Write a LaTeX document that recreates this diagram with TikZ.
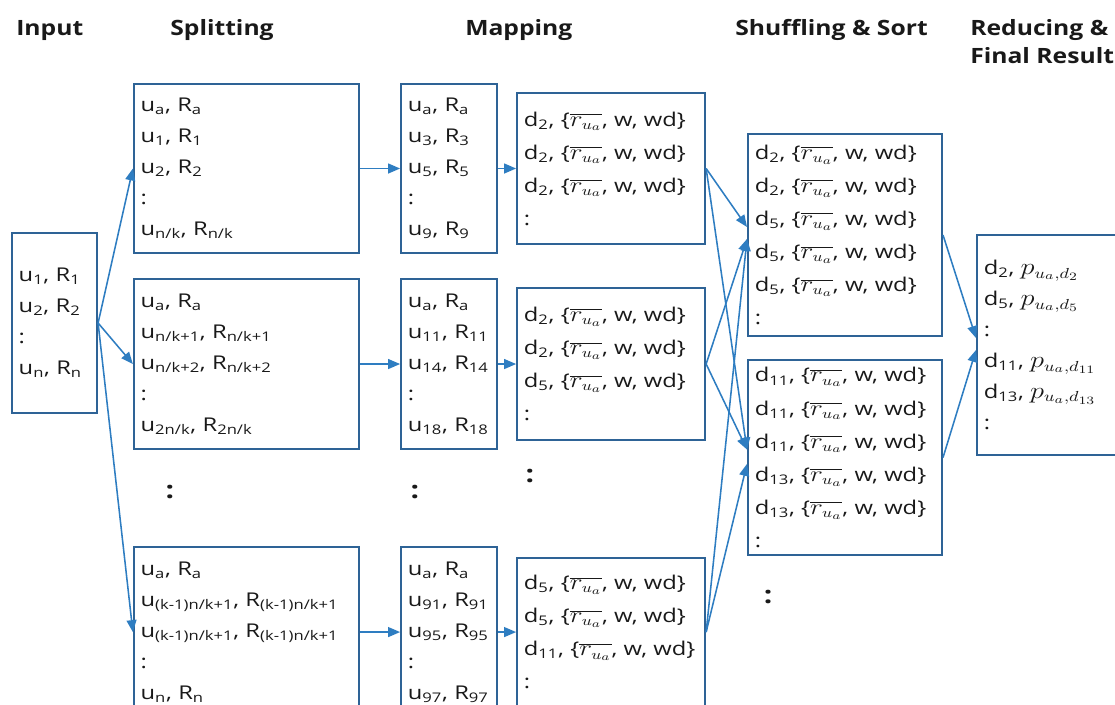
\documentclass[tikz,border=0pt]{standalone}
\usepackage{fontspec}
\setmainfont{Open Sans}[FakeStretch=1.25]
\newfontfamily\headfont{Open Sans}[FakeStretch=1.17]
\usetikzlibrary{arrows.meta, positioning}
\definecolor{boxblue}{RGB}{46,99,150}
\definecolor{arrowblue}{RGB}{46,125,193}
\definecolor{ink}{RGB}{25,25,25}
\newcommand{\sbt}[1]{\textsubscript{#1}}
\newcommand{\rua}{\scalebox{1.35}[1.1]{$\overline{r_{u_a}}$}}
\newcommand{\pud}[1]{\scalebox{1.4}[1.15]{$p_{u_a,d_{#1}}$}}

\begin{document}
\begin{tikzpicture}[x=0.025cm, y=-0.025cm,
    every node/.style={font=\fontsize{13.5}{22}\selectfont, text=ink},
    heading/.style={font=\headfont\fontsize{15}{20}\selectfont\bfseries, anchor=base west, inner sep=0},
    box/.style={rectangle, draw=boxblue, line width=1.4pt, align=left, inner xsep=0.17cm, inner ysep=0},
    pairbox/.style={box, font=\fontsize{13.5}{23.5}\selectfont},
    vdots/.style={font=\fontsize{17}{17}\selectfont\bfseries, inner sep=0},
    arrow/.style={-{Triangle[length=8.5pt, width=7pt]}, draw=arrowblue, line width=1.1pt}]

\useasboundingbox (0,0) rectangle (1115,704);
\clip (0,0) rectangle (1115,704);

% Headings
\node[heading] (hin) at (16,35) {Input};
\node[heading] (hsplit) at (170,35) {Splitting};
\node[heading] (hmap) at (465,35) {Mapping};
\node[heading] (hshuf) at (735,35) {Shuffling \& Sort};
\node[heading, anchor=north west, align=left] (hred) at (970,19) {Reducing \&\\Final Result};

% Input section
\node[box, text width=1.79cm, minimum height=4.5cm] (input) at (54.5,323)
  {u\sbt{1}, R\sbt{1}\\u\sbt{2}, R\sbt{2}\\:\\u\sbt{n}, R\sbt{n}};

% Splitting
\node[box, text width=5.29cm, minimum height=4.225cm] (split1) at (246.5,168.5)
  {u\sbt{a}, R\sbt{a}\\u\sbt{1}, R\sbt{1}\\u\sbt{2}, R\sbt{2}\\:\\u\sbt{n/k}, R\sbt{n/k}};
\node[box, text width=5.29cm, minimum height=4.25cm, below=0.6cm of split1] (split2)
  {u\sbt{a}, R\sbt{a}\\u\sbt{n/k+1}, R\sbt{n/k+1}\\u\sbt{n/k+2}, R\sbt{n/k+2}\\:\\u\sbt{2n/k}, R\sbt{2n/k}};
\node[box, text width=5.29cm, minimum height=4.25cm, below=2.4cm of split2] (split3)
  {u\sbt{a}, R\sbt{a}\\u\sbt{(k-1)n/k+1}, R\sbt{(k-1)n/k+1}\\u\sbt{(k-1)n/k+1}, R\sbt{(k-1)n/k+1}\\:\\u\sbt{n}, R\sbt{n}};
\node[vdots] (dsplit) at (170,492) {:};

% Mapping
\node[box, text width=2.06cm, minimum height=4.2cm, right=1cm of split1] (map1)
  {u\sbt{a}, R\sbt{a}\\u\sbt{3}, R\sbt{3}\\u\sbt{5}, R\sbt{5}\\:\\u\sbt{9}, R\sbt{9}};
\node[box, text width=2.06cm, minimum height=4.25cm, right=1cm of split2] (map2)
  {u\sbt{a}, R\sbt{a}\\u\sbt{11}, R\sbt{11}\\u\sbt{14}, R\sbt{14}\\:\\u\sbt{18}, R\sbt{18}};
\node[box, text width=2.06cm, minimum height=4.25cm, right=1cm of split3] (map3)
  {u\sbt{a}, R\sbt{a}\\u\sbt{91}, R\sbt{91}\\u\sbt{95}, R\sbt{95}\\:\\u\sbt{97}, R\sbt{97}};
\node[vdots] (dmap) at (415,492) {:};

\node[pairbox, text width=4.36cm, minimum height=3.775cm, right=0.45cm of map1] (out1)
  {d\sbt{2}, \{\rua, w, wd\}\\d\sbt{2}, \{\rua, w, wd\}\\d\sbt{2}, \{\rua, w, wd\}\\:};
\node[pairbox, text width=4.36cm, minimum height=3.8cm, right=0.45cm of map2] (out2)
  {d\sbt{2}, \{\rua, w, wd\}\\d\sbt{2}, \{\rua, w, wd\}\\d\sbt{5}, \{\rua, w, wd\}\\:};
\node[pairbox, text width=4.36cm, minimum height=3.7cm, right=0.45cm of map3] (out3)
  {d\sbt{5}, \{\rua, w, wd\}\\d\sbt{5}, \{\rua, w, wd\}\\d\sbt{11}, \{\rua, w, wd\}\\:};
\node[vdots] (dout) at (530,476) {:};

% Shuffling & Sort
\node[pairbox, text width=4.51cm, minimum height=5.05cm] (shuf1) at (845,235)
  {d\sbt{2}, \{\rua, w, wd\}\\d\sbt{2}, \{\rua, w, wd\}\\d\sbt{5}, \{\rua, w, wd\}\\d\sbt{5}, \{\rua, w, wd\}\\d\sbt{5}, \{\rua, w, wd\}\\:};
\node[pairbox, text width=4.51cm, minimum height=4.875cm, below=0.55cm of shuf1] (shuf2)
  {d\sbt{11}, \{\rua, w, wd\}\\d\sbt{11}, \{\rua, w, wd\}\\d\sbt{11}, \{\rua, w, wd\}\\d\sbt{13}, \{\rua, w, wd\}\\d\sbt{13}, \{\rua, w, wd\}\\:};
\node[vdots] (dshuf) at (768,597) {:};

% Reducing & final result
\node[box, text width=3.41cm, minimum height=5.5cm] (final) at (1052,345)
  {d\sbt{2}, \pud{2}\\d\sbt{5}, \pud{5}\\:\\d\sbt{11}, \pud{11}\\d\sbt{13}, \pud{13}\\:};

% Arrows
\draw[arrow] (input.east) -- (split1.west);
\draw[arrow] (input.east) -- (split2.west);
\draw[arrow] (input.east) -- (split3.west);
\draw[arrow] (split1.east) -- (map1.west);
\draw[arrow] (split2.east) -- (map2.west);
\draw[arrow] (split3.east) -- (map3.west);
\draw[arrow] (map1.east) -- (out1.west);
\draw[arrow] (map2.east) -- (out2.west);
\draw[arrow] (map3.east) -- (out3.west);
\draw[arrow] (out1.east) -- ([yshift=0.2cm]shuf1.west);
\draw[arrow] (out1.east) -- ([yshift=0.2cm]shuf2.west);
\draw[arrow] (out2.east) -- ([yshift=-0.1cm]shuf1.west);
\draw[arrow] (out2.east) -- ([yshift=0.2cm]shuf2.west);
\draw[arrow] (out3.east) -- ([yshift=-0.1cm]shuf1.west);
\draw[arrow] (out3.east) -- ([yshift=-0.16cm]shuf2.west);
\draw[arrow] (shuf1.east) -- ([yshift=0.175cm]final.west);
\draw[arrow] (shuf2.east) -- ([yshift=-0.125cm]final.west);

\end{tikzpicture}
\end{document}
